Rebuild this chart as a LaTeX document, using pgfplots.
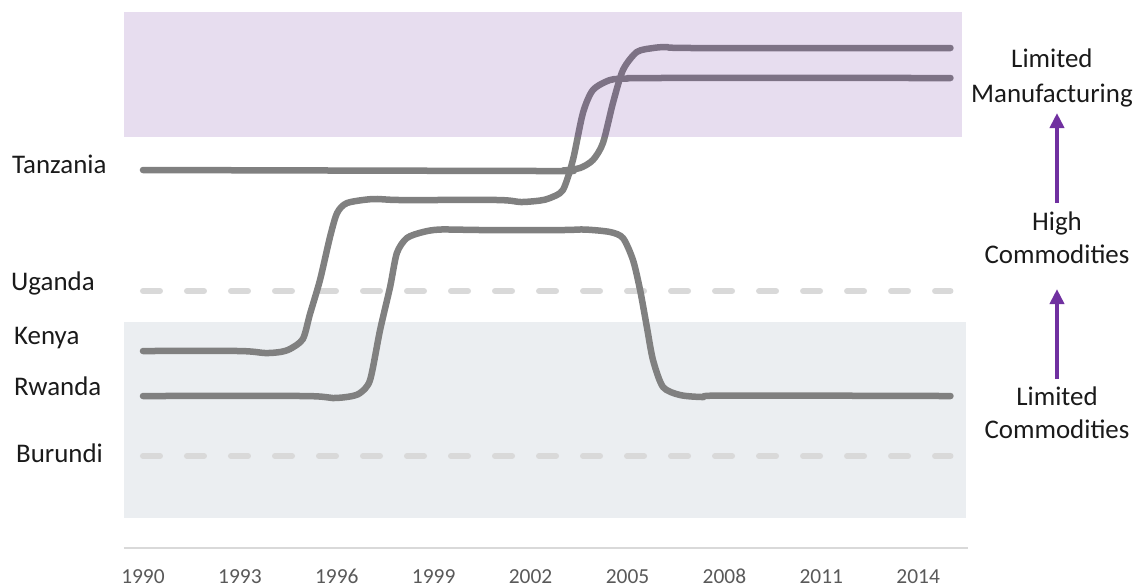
\documentclass[border=0pt]{standalone}
\usepackage{pgfplots}
\pgfplotsset{compat=1.18}
\usepackage{fontspec}
\setmainfont{Carlito}
\usetikzlibrary{arrows.meta}
\definecolor{ln}{HTML}{808080}
\definecolor{pur}{HTML}{7030A0}
\definecolor{gband}{HTML}{EBEEF1}
\definecolor{dashc}{HTML}{D9D9D9}
\definecolor{txt}{HTML}{1A1A1A}
\definecolor{tickc}{HTML}{595959}
\newcommand\lf{\fontsize{27}{32}\selectfont}
\begin{document}
\begin{tikzpicture}
\begin{axis}[
 scale only axis, width=842bp, height=548bp,
 xmin=1989.41, xmax=2015.48, ymin=0, ymax=548, y dir=reverse,
 axis line style={draw=none}, ytick=\empty,
 xtick={1990,1993,1996,1999,2002,2005,2008,2011,2014},
 xticklabels={1990,1993,1996,1999,2002,2005,2008,2011,2014},
 xticklabel pos=lower, major tick length=0pt, tick style={draw=none},
 xticklabel style={anchor=base, yshift=-35bp, font=\fontsize{21.5}{24}\selectfont, text=tickc},
 clip=false,
 every axis plot/.append style={line cap=round, line join=round},
]
\path (axis cs:1985.573,0) rectangle (axis cs:2020.898,585);
\fill[gband] (axis cs:1989.41,322) rectangle (axis cs:2015.48,518);
\draw[dashc, line width=2bp] (axis cs:1989.41,548) -- (axis cs:2015.54,548);
% dashed reference lines (Uganda, Burundi)
\addplot[dashc, line width=6bp, dash pattern=on 17bp off 27bp] coordinates {(1990,291) (2015,291)};
\addplot[dashc, line width=6bp, dash pattern=on 17bp off 27bp] coordinates {(1990,456) (2015,456)};
% Tanzania
\addplot[ln, line width=6.5bp, smooth, tension=0.45] coordinates {
(1990,170) (2002.5,171) (2003.0,170.5) (2003.53,168) (2003.93,160) (2004.24,143) (2004.55,103) (2004.86,70) (2005.29,52) (2005.8,48) (2006.22,47) (2007.0,48) (2015,48)};
% Kenya
\addplot[ln, line width=6.5bp, smooth, tension=0.45] coordinates {
(1990,351) (1993.0,351) (1993.78,353) (1994.24,352) (1994.55,349) (1994.95,339) (1995.17,314) (1995.48,280) (1995.79,237) (1996.01,213) (1996.32,203) (1997.12,199) (1997.96,200) (2001.0,200) (2001.7,202) (2002.3,200.5) (2002.6,198) (2003.0,190) (2003.31,160) (2003.62,113) (2003.93,90) (2004.46,80) (2005.0,78.5) (2005.8,78) (2015,78)};
% Rwanda
\addplot[ln, line width=6.5bp, smooth, tension=0.45] coordinates {
(1990,396) (1995.0,396) (1995.88,398) (1996.4,396.5) (1996.72,393) (1997.03,380) (1997.34,330) (1997.65,287) (1997.86,253) (1998.17,238) (1998.67,232) (1999.2,229.5) (2000.5,230) (2003.0,230) (2003.68,229.5) (2004.46,232) (2004.86,238) (2005.17,260) (2005.39,290) (2005.6,327) (2005.79,360) (2006.1,387) (2006.63,395) (2007.34,397) (2007.96,395.5) (2015,396)};
% purple band overlay
\fill[pur, opacity=0.165] (axis cs:1989.41,12) rectangle (axis cs:2015.36,137);
% left labels
\node[anchor=base west, inner sep=0pt, text=txt, font=\lf] at (axis cs:1985.944,173) {Tanzania};
\node[anchor=base west, inner sep=0pt, text=txt, font=\lf] at (axis cs:1985.913,290) {Uganda};
\node[anchor=base west, inner sep=0pt, text=txt, font=\lf] at (axis cs:1986.006,344) {Kenya};
\node[anchor=base west, inner sep=0pt, text=txt, font=\lf] at (axis cs:1986.006,395) {Rwanda};
\node[anchor=base west, inner sep=0pt, text=txt, font=\lf] at (axis cs:1986.068,462) {Burundi};
% right labels
\node[anchor=base, inner sep=0pt, text=txt, font=\lf] at (axis cs:2018.14,67) {Limited};
\node[anchor=base, inner sep=0pt, text=txt, font=\lf] at (axis cs:2018.14,102) {Manufacturing};
\node[anchor=base, inner sep=0pt, text=txt, font=\lf] at (axis cs:2018.297,230) {High};
\node[anchor=base, inner sep=0pt, text=txt, font=\lf] at (axis cs:2018.297,263) {Commodities};
\node[anchor=base, inner sep=0pt, text=txt, font=\lf] at (axis cs:2018.297,405) {Limited};
\node[anchor=base, inner sep=0pt, text=txt, font=\lf] at (axis cs:2018.297,438) {Commodities};
% arrows
\draw[pur, line width=4bp, -{Triangle[width=14bp,length=15bp]}] (axis cs:2018.297,203) -- (axis cs:2018.297,113);
\draw[pur, line width=4bp, -{Triangle[width=14bp,length=15bp]}] (axis cs:2018.297,379) -- (axis cs:2018.297,289);
\end{axis}
\end{tikzpicture}
\end{document}
